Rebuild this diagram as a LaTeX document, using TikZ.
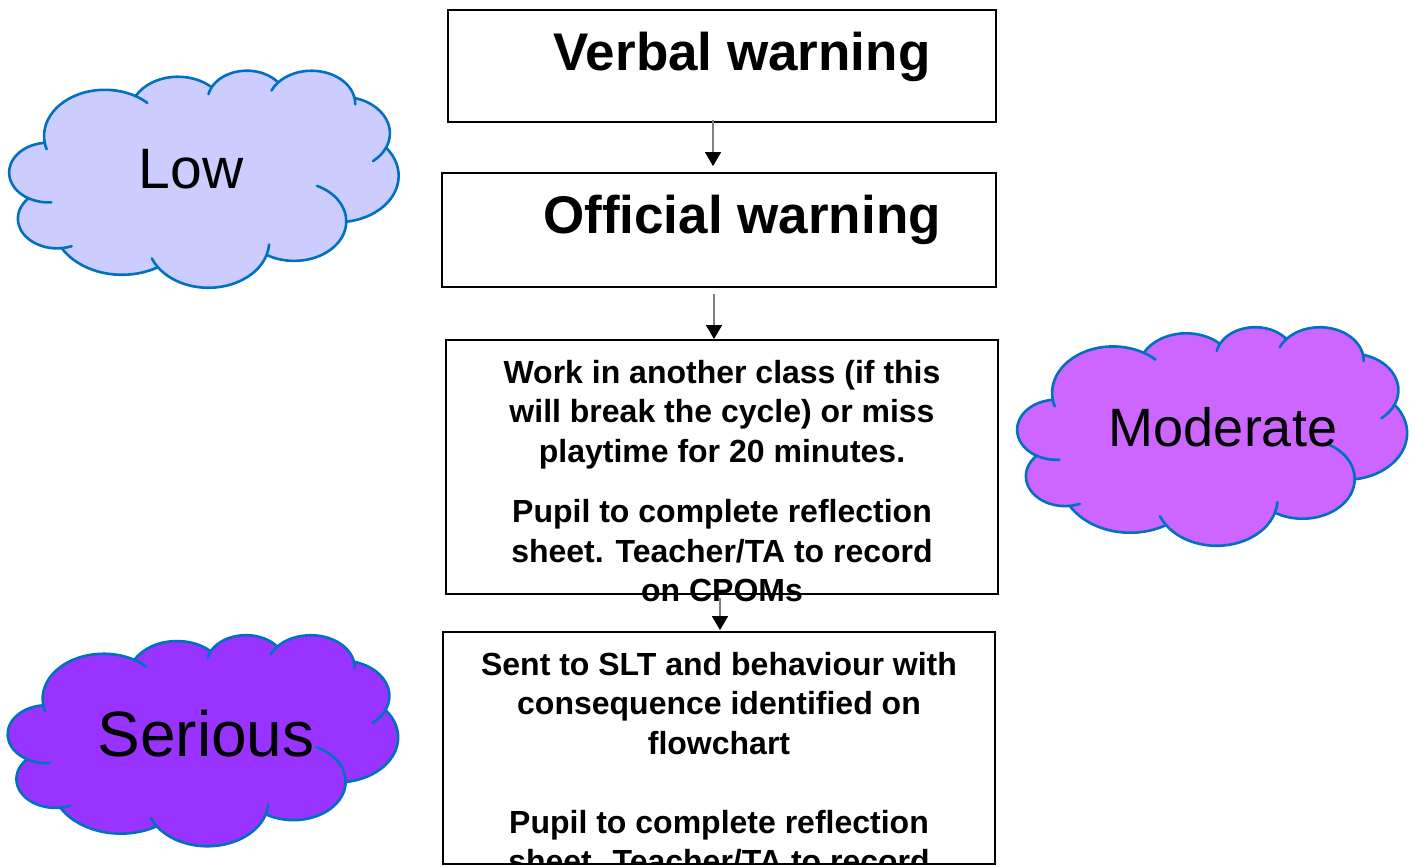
\documentclass[tikz,border=0pt]{standalone}
\usepackage{fontspec}
\setmainfont{Liberation Sans}
\usetikzlibrary{arrows.meta}
\definecolor{cloudblue}{RGB}{0,112,192}
\definecolor{lowfill}{RGB}{204,204,255}
\definecolor{modfill}{RGB}{204,102,255}
\definecolor{serfill}{RGB}{153,51,255}
\definecolor{arrowgray}{RGB}{128,128,128}
\tikzset{
  cloudedge/.style={draw=cloudblue, line width=2.6pt, line join=round},
  cloudstroke/.style={draw=cloudblue, line width=2.6pt, line cap=round},
  stepbox/.style={draw=black, line width=1.8pt, inner sep=0pt, fill=white},
  headtext/.style={inner sep=0pt, font=\bfseries\fontsize{53}{60}\selectfont},
  bodytext/.style={inner sep=0pt, align=center, font=\bfseries\fontsize{32}{39.5}\selectfont},
  cloudtext/.style={inner sep=0pt, anchor=base},
  flowarrow/.style={draw=arrowgray, line width=1.3pt, -{Triangle[length=14pt,width=16pt,color=black]}}
}
% #1,#2 top-left; #3,#4 units; #5 fill
\newcommand\mycloud[5]{%
\begin{scope}[shift={(#1,#2)}, x=#3pt, y=-#4pt]
\path[cloudedge, fill=#5] (3.9,14.37)
  arc[start angle=172.25, end angle=300.36, x radius=6.753, y radius=9.19]
  arc[start angle=-152.02, end angle=-45.47, x radius=5.333, y radius=7.267]
  arc[start angle=-153.49, end angle=-37.32, x radius=4.365, y radius=5.945]
  arc[start angle=-139.70, end angle=-10.22, x radius=4.857, y radius=6.595]
  arc[start angle=-74.77, end angle=23.21, x radius=5.333, y radius=7.273]
  arc[start angle=-37.52, end angle=81.86, x radius=6.775, y radius=9.22]
  arc[start angle=0.46, end angle=121.98, x radius=5.785, y radius=7.867]
  arc[start angle=16.85, end angle=146.23, x radius=6.752, y radius=9.215]
  arc[start angle=58.97, end angle=150.19, x radius=7.72, y radius=10.543]
  arc[start angle=83.31, end angle=223.12, x radius=4.36, y radius=5.918]
  arc[start angle=120.36, end angle=264.11, x radius=4.345, y radius=5.945]
  -- cycle;
\path[cloudstroke]
  (4.305,20.414) ++(85.54:4.345 and 5.945) arc[start angle=85.54, end angle=120.36, x radius=4.345, y radius=5.945]
  (5.291,29.588) ++(68.23:4.36 and 5.918) arc[start angle=68.23, end angle=83.31, x radius=4.36, y radius=5.918]
  (22.091,34.137) ++(146.23:6.752 and 9.215) arc[start angle=146.23, end angle=158.47, x radius=6.752, y radius=9.215]
  (22.091,34.137) ++(3.82:6.752 and 9.215) arc[start angle=3.82, end angle=16.85, x radius=6.752, y radius=9.215]
  (31.617,30.135) ++(-64.03:5.785 and 7.867) arc[start angle=-64.03, end angle=0.46, x radius=5.785, y radius=7.867]
  (36.915,12.59) ++(23.21:5.333 and 7.273) arc[start angle=23.21, end angle=49.64, x radius=5.333, y radius=7.273]
  (33.536,6.742) ++(-10.22:4.857 and 6.595) arc[start angle=-10.22, end angle=0.83, x radius=4.857, y radius=6.595]
  (33.536,6.742) ++(-156.30:4.857 and 6.595) arc[start angle=-156.30, end angle=-139.70, x radius=4.857, y radius=6.595]
  (26.36,6.082) ++(-167.72:4.365 and 5.945) arc[start angle=-167.72, end angle=-153.49, x radius=4.365, y radius=5.945]
  (10.591,13.1305) ++(-59.64:6.753 and 9.19) arc[start angle=-59.64, end angle=-45.74, x radius=6.753, y radius=9.19]
  (10.591,13.1305) ++(163.19:6.753 and 9.19) arc[start angle=163.19, end angle=172.25, x radius=6.753, y radius=9.19];
\end{scope}}
\begin{document}
\begin{tikzpicture}[x=1pt, y=-1pt]
\useasboundingbox (0,0) rectangle (1415,866);
\fill[white] (0,0) rectangle (1415,866);

% clouds
\mycloud{9.5}{70}{9.005}{5.023}{lowfill}
\mycloud{1017.5}{326.5}{9.016}{5.058}{modfill}
\mycloud{8}{634.5}{9.028}{4.884}{serfill}
\node[cloudtext, font=\fontsize{57}{60}\selectfont] (low) at (191,189) {Low};
\node[cloudtext, font=\fontsize{54}{60}\selectfont] (moderate) at (1223,446) {Moderate};
\node[cloudtext, font=\fontsize{64}{70}\selectfont] (serious) at (206,756) {Serious};

% boxes
\node[stepbox, minimum width=548pt, minimum height=112pt] (b1) at (722,66) {};
\node[stepbox, minimum width=554pt, minimum height=114pt] (b2) at (719,230) {};
\node[stepbox, minimum width=552pt, minimum height=254pt] (b3) at (722,467) {};
\node[stepbox, minimum width=552pt, minimum height=232pt] (b4) at (719,748) {};

\node[headtext, anchor=base] (t1) at (742,71) {Verbal warning};
\node[headtext, anchor=base] (t2) at (742,234) {Official warning};
\node[bodytext, anchor=north] (t3) at (722,360) {Work in another class (if this\\will break the cycle) or miss\\playtime for 20 minutes.\\[21pt]Pupil to complete reflection\\sheet. Teacher/TA to record\\on CPOMs};
\begin{scope}
\clip (b4.north west) rectangle (b4.south east);
\node[bodytext, anchor=north] (t4) at (719,652) {Sent to SLT and behaviour with\\consequence identified on\\flowchart\\[39.5pt]Pupil to complete reflection\\sheet. Teacher/TA to record};
\end{scope}

% connectors
\coordinate (ax1) at (713,0);
\coordinate (ax2) at (714,0);
\coordinate (ax3) at (720,0);
\draw[flowarrow, shorten <=-3pt, shorten >=6pt] (b1.south -| ax1) -- (b2.north -| ax1);
\draw[flowarrow, shorten <=6pt] (b2.south -| ax2) -- (b3.north -| ax2);
\draw[flowarrow, shorten <=3pt, shorten >=1pt] (b3.south -| ax3) -- (b4.north -| ax3);
\end{tikzpicture}
\end{document}
